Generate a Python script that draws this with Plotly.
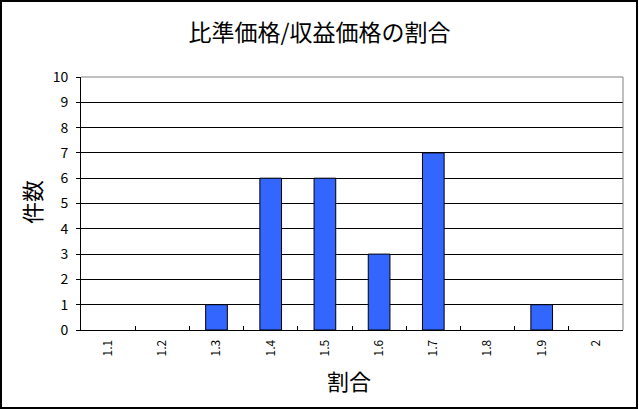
import plotly.graph_objects as go

# 比準価格/収益価格の割合 ごとの件数
categories = ["1.1", "1.2", "1.3", "1.4", "1.5", "1.6", "1.7", "1.8", "1.9", "2"]
counts = [0, 0, 1, 6, 6, 3, 7, 0, 1, 0]

font_jp = "Noto Sans CJK JP"

fig = go.Figure()
fig.add_trace(go.Bar(
    x=categories,
    y=counts,
    marker=dict(color="#3366FF",
                line=dict(color="black", width=[0 if v == 0 else 1 for v in counts])),
    width=0.4,
))

fig.update_layout(
    width=639,
    height=410,
    margin=dict(l=81, r=16, t=77, b=80),
    paper_bgcolor="white",
    plot_bgcolor="white",
    showlegend=False,
    font=dict(family=font_jp, color="black", size=12),
    title=dict(
        text="比準価格/収益価格の割合",
        font=dict(size=23, family=font_jp, color="black"),
        x=0.5, xanchor="center",
        y=1 - 33 / 410, yanchor="middle", yref="container",
    ),
)

fig.update_xaxes(
    type="category",
    showline=True, linecolor="black", linewidth=1,
    showgrid=False,
    ticks="inside", ticklen=4, tickcolor="black", tickson="boundaries",
    tickangle=-90,
    tickfont=dict(size=12, family=font_jp),
    ticklabelstandoff=4,
    automargin=False,
)
fig.update_yaxes(
    range=[0, 10], dtick=1,
    showline=True, linecolor="black", linewidth=1,
    showgrid=True, gridcolor="black", gridwidth=1,
    ticks="outside", ticklen=4, tickcolor="black",
    tickfont=dict(size=14, family=font_jp),
    ticklabelstandoff=5,
    zeroline=False,
    automargin=False,
)

# 軸タイトル
fig.add_annotation(text="件数", xref="paper", yref="paper",
                   x=(31 - 81) / 542, y=(330 - 202) / 253, textangle=-90,
                   xanchor="center", yanchor="middle",
                   showarrow=False, font=dict(size=22, family=font_jp))
fig.add_annotation(text="割合", xref="paper", yref="paper",
                   x=(349 - 81) / 542, y=(330 - 380) / 253,
                   xanchor="center", yanchor="middle",
                   showarrow=False, font=dict(size=22, family=font_jp))

# プロットエリア上・右の灰色枠と外枠
fig.add_shape(type="line", xref="paper", yref="paper", x0=0, x1=1, y0=1, y1=1,
              line=dict(color="#808080", width=1))
fig.add_shape(type="line", xref="paper", yref="paper", x0=1, x1=1, y0=0, y1=1,
              line=dict(color="#808080", width=1))
fig.add_shape(type="rect", xref="paper", yref="paper",
              x0=(1 - 81) / 542, x1=(637 - 81) / 542,
              y0=(330 - 408) / 253, y1=(330 - 1) / 253,
              line=dict(color="black", width=2))

fig.write_html("out.html", config={"displayModeBar": False},
               post_script="document.body.style.margin='0';")
